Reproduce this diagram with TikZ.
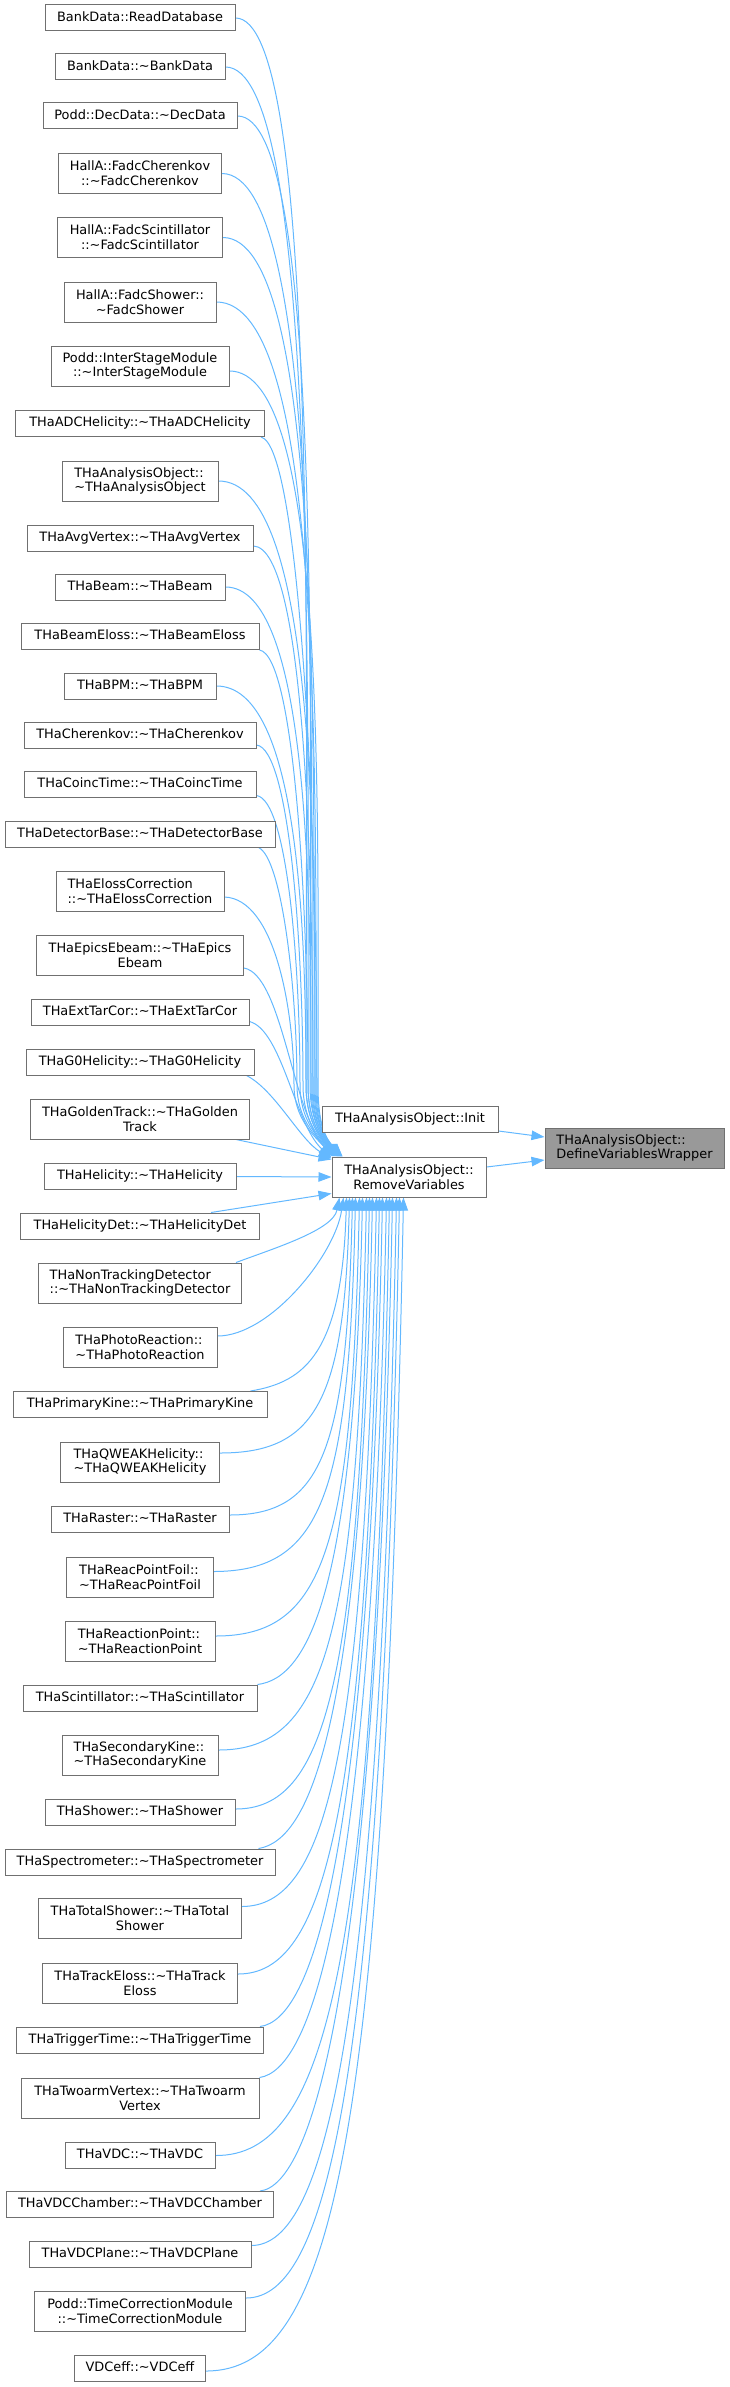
\documentclass[tikz,border=0pt]{standalone}
\usepackage{fontspec}
\setmainfont{DejaVu Sans}
\usetikzlibrary{arrows.meta,backgrounds}
\definecolor{boxgray}{HTML}{707070}
\definecolor{edgeblue}{HTML}{63B8FF}
\definecolor{focusfill}{HTML}{999999}
\newcommand\tld{\char"7E\relax}
\tikzset{
 box/.style={draw=boxgray, fill=white, line width=1pt, inner xsep=1pt, inner ysep=0pt, font=\fontsize{12.9}{14.8}\selectfont},
 one/.style={box, text height=9.5pt, text depth=2.8pt, minimum height=26pt},
 two/.style={box, align=center, minimum height=40pt},
 twol/.style={box, align=left, minimum height=40pt},
 cedge/.style={draw=edgeblue, line width=1pt, -{Triangle[length=13pt,width=9.5pt]}},
}
% #1 start, #2 c1x, #3 c1y, #4 lane, #5 ys, #6 target xshift
\newcommand\topedge[6]{\draw[cedge] (#1) .. controls (#2,#3) and (#4,{#5+0.6*(1085-#5)}) .. (#4,1085) .. controls (#4,1118) and ({312+#6},1136) .. ([xshift=#6pt]rv.north west);}
% #1 start, #2 ys, #3 target shift, #4 c1x, #5 c1y
\newcommand\lowedge[5]{\draw[cedge] (#1) .. controls (#4,#5) and ({0.75*(332+#3)+82},{0.8*#2+239.4}) .. ([xshift=#3pt]rv.south west);}
\begin{document}
\begin{tikzpicture}[x=1pt,y=-1pt]
\useasboundingbox (0,0) rectangle (729,2387);
% left column
\node[one, minimum width=190pt] (rd) at (140,18) {BankData::ReadDatabase};
\node[one, minimum width=170pt] (bd) at (140,67) {BankData::\tld BankData};
\node[one, minimum width=194pt] (dd) at (140,116) {Podd::DecData::\tld DecData};
\node[two, minimum width=163pt] (fc) at (140,173.5) {HallA::FadcCherenkov\\::\tld FadcCherenkov};
\node[two, minimum width=165pt] (fs) at (140,237.5) {HallA::FadcScintillator\\::\tld FadcScintillator};
\node[two, minimum width=152pt] (fsh) at (140,302) {HallA::FadcShower::\\\tld FadcShower};
\node[two, minimum width=178pt] (ism) at (140,366) {Podd::InterStageModule\\::\tld InterStageModule};
\node[one, minimum width=249pt] (adc) at (140,423.5) {THaADCHelicity::\tld THaADCHelicity};
\node[twol, minimum width=156pt] (ao) at (140,481) {THaAnalysisObject::\\\tld THaAnalysisObject};
\node[one, minimum width=226pt] (av) at (140,538) {THaAvgVertex::\tld THaAvgVertex};
\node[one, minimum width=170pt] (bm) at (140,587) {THaBeam::\tld THaBeam};
\node[one, minimum width=238pt] (bel) at (140,636.5) {THaBeamEloss::\tld THaBeamEloss};
\node[one, minimum width=152pt] (bpm) at (140,686) {THaBPM::\tld THaBPM};
\node[one, minimum width=232pt] (ch) at (140,735) {THaCherenkov::\tld THaCherenkov};
\node[one, minimum width=232pt] (ct) at (140,784.5) {THaCoincTime::\tld THaCoincTime};
\node[one, minimum width=270pt] (db) at (140,834) {THaDetectorBase::\tld THaDetectorBase};
\node[twol, minimum width=168pt] (ec) at (140,891) {THaElossCorrection\\::\tld THaElossCorrection};
\node[two, minimum width=207pt] (ee) at (140,955) {THaEpicsEbeam::\tld THaEpics\\Ebeam};
\node[one, minimum width=218pt] (etc) at (140,1012.5) {THaExtTarCor::\tld THaExtTarCor};
\node[one, minimum width=228pt] (g0) at (140,1062) {THaG0Helicity::\tld THaG0Helicity};
\node[two, minimum width=219pt] (gt) at (140,1119) {THaGoldenTrack::\tld THaGolden\\Track};
\node[one, minimum width=192pt] (he) at (140,1176.5) {THaHelicity::\tld THaHelicity};
\node[one, minimum width=239pt] (hd) at (140,1226) {THaHelicityDet::\tld THaHelicityDet};
\node[twol, minimum width=203pt] (ntd) at (140,1283) {THaNonTrackingDetector\\::\tld THaNonTrackingDetector};
\node[twol, minimum width=154pt] (pr) at (140,1347) {THaPhotoReaction::\\\tld THaPhotoReaction};
\node[one, minimum width=254pt] (pk) at (140,1404.5) {THaPrimaryKine::\tld THaPrimaryKine};
\node[twol, minimum width=159pt] (qw) at (140,1462) {THaQWEAKHelicity::\\\tld THaQWEAKHelicity};
\node[one, minimum width=178pt] (ra) at (140,1519.5) {THaRaster::\tld THaRaster};
\node[twol, minimum width=147pt] (rpf) at (140,1577) {THaReacPointFoil::\\\tld THaReacPointFoil};
\node[twol, minimum width=150pt] (rp) at (140,1641) {THaReactionPoint::\\\tld THaReactionPoint};
\node[one, minimum width=234pt] (sc) at (140,1698) {THaScintillator::\tld THaScintillator};
\node[twol, minimum width=156pt] (sk) at (140,1755) {THaSecondaryKine::\\\tld THaSecondaryKine};
\node[one, minimum width=190pt] (sh) at (140,1812.5) {THaShower::\tld THaShower};
\node[one, minimum width=270pt] (sp) at (140,1862) {THaSpectrometer::\tld THaSpectrometer};
\node[two, minimum width=203pt] (ts) at (140,1918.5) {THaTotalShower::\tld THaTotal\\Shower};
\node[two, minimum width=195pt] (te) at (140,1983) {THaTrackEloss::\tld THaTrack\\Eloss};
\node[one, minimum width=247pt] (tt) at (140,2040) {THaTriggerTime::\tld THaTriggerTime};
\node[two, minimum width=238pt] (tv) at (140,2098) {THaTwoarmVertex::\tld THaTwoarm\\Vertex};
\node[one, minimum width=150pt] (vdc) at (140,2155.5) {THaVDC::\tld THaVDC};
\node[one, minimum width=267pt] (vch) at (140,2204.5) {THaVDCChamber::\tld THaVDCChamber};
\node[one, minimum width=222pt] (vpl) at (140,2254) {THaVDCPlane::\tld THaVDCPlane};
\node[two, minimum width=211pt] (tcm) at (140,2311) {Podd::TimeCorrectionModule\\::\tld TimeCorrectionModule};
\node[one, minimum width=131pt] (vde) at (140,2368.5) {VDCeff::\tld VDCeff};
% right nodes
\node[one, minimum width=176pt] (init) at (410,1119.5) {THaAnalysisObject::Init};
\node[two, minimum width=154pt] (rv) at (409,1177) {THaAnalysisObject::\\RemoveVariables};
\node[twol, minimum width=179pt, fill=focusfill, draw=boxgray] (dvw) at (634.5,1148) {THaAnalysisObject::\\DefineVariablesWrapper};
\begin{pgfonlayer}{background}
% edges to DefineVariablesWrapper
\draw[cedge] ([yshift=2pt]init.south east) -- ([yshift=11pt]dvw.west);
\draw[cedge] ([yshift=10pt]rv.east) -- ([yshift=-12pt]dvw.west);
% top edges
\topedge{rd.east}{318}{18}{306}{18}{6}
\topedge{bd.east}{316}{67}{308}{67}{7}
\topedge{dd.east}{322}{116}{310}{116}{8}
\topedge{fc.east}{320}{174}{312}{174}{9}
\topedge{fs.east}{322}{238}{314}{238}{10}
\topedge{fsh.east}{322}{302}{316}{302}{10}
\topedge{[yshift=-5pt]ism.east}{326}{371}{318}{371}{11}
\topedge{[xshift=-4pt]adc.south east}{300}{446}{317}{436}{11}
\topedge{ao.east}{315}{481}{315}{481}{10}
\topedge{[yshift=-8pt]av.east}{305}{548}{313}{546}{9}
\topedge{bm.east}{308}{587}{311}{587}{8}
\topedge{bel.south east}{295}{656}{308}{649}{7}
\topedge{bpm.east}{298}{686}{306}{686}{6}
\topedge{[yshift=-10pt]ch.east}{290}{749}{303}{745}{5}
\topedge{[yshift=-11pt]ct.east}{288}{800}{300}{795}{4}
\topedge{[xshift=-17pt]db.south east}{282}{858}{297}{847}{3}
\topedge{[yshift=-6pt]ec.east}{275}{899}{294}{897}{2}
\draw[cedge] ([yshift=-13pt]ee.east) .. controls (282,975) and (292,1110) .. ([xshift=1pt]rv.north west);
\draw[cedge] ([yshift=-9pt]etc.east) .. controls (282,1030) and (295,1125) .. ([yshift=-1pt]rv.north west);
\draw[cedge] ([xshift=-8pt]g0.south east) .. controls (275,1090) and (300,1140) .. ([yshift=-2pt]rv.north west);
\draw[cedge] ([xshift=-14pt]gt.south east) -- ([yshift=-3pt]rv.north west);
\draw[cedge] (he.east) -- (rv.west);
\draw[cedge] ([xshift=-49pt]hd.north east) -- ([yshift=4pt]rv.south west);
% lower edges
\draw[cedge] ([xshift=-6pt]ntd.north east) .. controls (275,1248) and (333,1230) .. ([xshift=8pt]rv.south west);
\draw[cedge] ([yshift=11pt]pr.east) .. controls (270,1336) and (335,1255) .. ([xshift=12pt]rv.south west);
\lowedge{[xshift=-17pt]pk.north east}{1392}{15}{305}{1382}
\lowedge{[yshift=9pt]qw.east}{1453}{18}{315}{1453}
\lowedge{[yshift=4.5pt]ra.east}{1515}{21}{322}{1515}
\lowedge{[yshift=5.5pt]rpf.east}{1571}{24}{322}{1571}
\lowedge{[yshift=5pt]rp.east}{1636}{28}{325}{1636}
\lowedge{sc.north east}{1684}{31}{310}{1678}
\lowedge{[yshift=5pt]sk.east}{1750}{35}{325}{1750}
\lowedge{[yshift=3.5pt]sh.east}{1809}{38}{325}{1809}
\lowedge{[xshift=-17pt]sp.north east}{1849}{41}{312}{1840}
\lowedge{[yshift=12pt]ts.east}{1906}{45}{325}{1906}
\lowedge{[yshift=9pt]te.east}{1974}{48}{325}{1974}
\lowedge{[xshift=-4pt]tt.north east}{2027}{51}{312}{2020}
\lowedge{tv.north east}{2078}{55}{312}{2070}
\lowedge{vdc.east}{2156}{58}{328}{2156}
\lowedge{[xshift=-14pt]vch.north east}{2192}{61}{312}{2185}
\lowedge{[yshift=8.5pt]vpl.east}{2245}{65}{325}{2245}
\lowedge{[yshift=13pt]tcm.east}{2298}{68}{328}{2298}
\lowedge{[yshift=-2.5pt]vde.east}{2371}{72}{335}{2371}
\end{pgfonlayer}
\end{tikzpicture}
\end{document}
